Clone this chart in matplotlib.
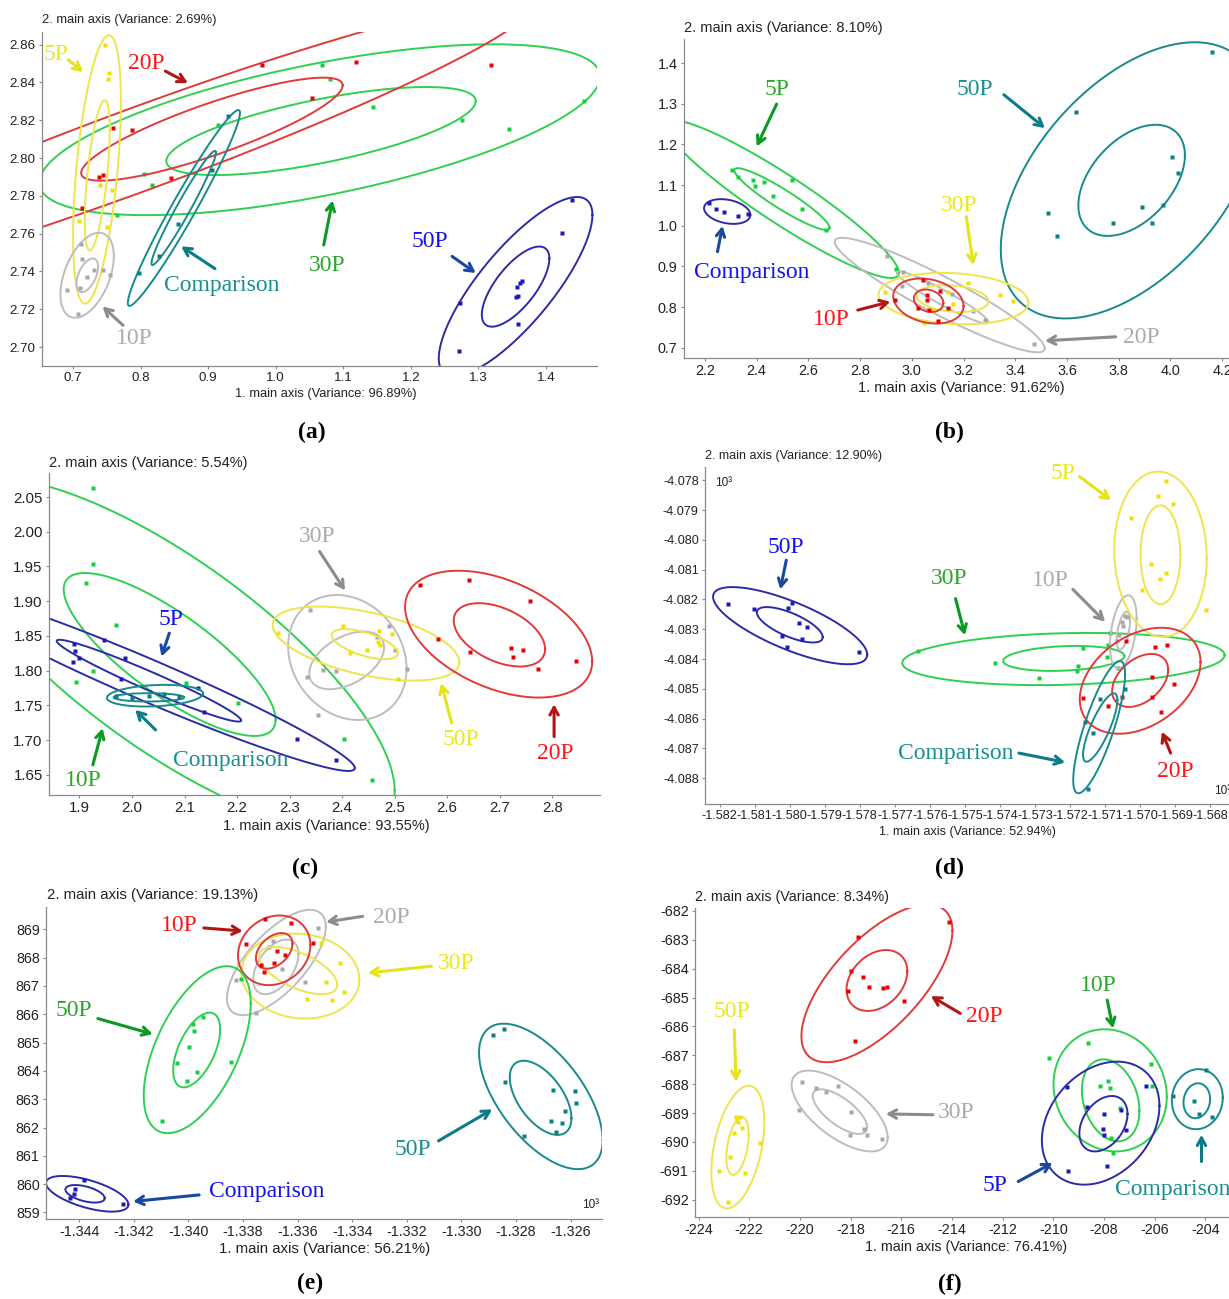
import matplotlib

matplotlib.use("Agg")
import matplotlib.pyplot as plt
import numpy as np

plt.rcParams["font.family"] = ["Liberation Sans", "DejaVu Sans"]

# points are (axis 1, axis 2); ellipses are (cx, cy, half-width, half-height, tilt r)

# ---- (a) ----
a_5p_pts = [(0.747, 2.8596), (0.7529, 2.845), (0.751, 2.842), (0.7396, 2.7855),
            (0.7578, 2.783), (0.7495, 2.7635), (0.7089, 2.7665)]
a_5p_ell = [(0.7354, 2.794, 0.0354, 0.071, 0.5), (0.7358, 2.7909, 0.0185, 0.0397, 0.6)]
a_20p_pts = [(0.9795, 2.849), (1.119, 2.851), (1.319, 2.849), (1.053, 2.832), (0.7584, 2.8161),
             (0.7874, 2.8147), (0.7385, 2.790), (0.7444, 2.7912), (0.8447, 2.7896), (0.7139, 2.7735)]
a_20p_ell = [(0.80, 2.805, 0.58, 0.0789, 0.9556), (0.9055, 2.8153, 0.1935, 0.02725, 0.85)]
a_30p_pts = [(1.069, 2.849), (1.081, 2.842), (1.1445, 2.827), (1.275, 2.820), (1.3455, 2.8155),
             (1.456, 2.830), (0.914, 2.8173), (0.8052, 2.7917), (0.8161, 2.7856), (0.7652, 2.7697)]
a_30p_ell = [(1.065, 2.815, 0.415, 0.0452, 0.62), (1.067, 2.8143, 0.229, 0.0233, 0.68)]
a_comp_pts = [(0.9296, 2.822), (0.905, 2.7935), (0.8547, 2.7653), (0.8274, 2.748), (0.7978, 2.7392)]
a_comp_ell = [(0.864, 2.7736, 0.083, 0.0518, 0.97), (0.8637, 2.7736, 0.0477, 0.0302, 0.97)]
a_10p_pts = [(0.7124, 2.7547), (0.7139, 2.7468), (0.7199, 2.737), (0.7311, 2.741), (0.7436, 2.741),
             (0.7544, 2.738), (0.6911, 2.7304), (0.7099, 2.7312), (0.7074, 2.7177)]
a_10p_ell = [(0.7208, 2.738, 0.0395, 0.0225, 0.45), (0.721, 2.738, 0.016, 0.0089, 0.5)]
a_50p_pts = [(1.4385, 2.7776), (1.424, 2.7605), (1.273, 2.7235), (1.271, 2.698), (1.357, 2.732),
             (1.362, 2.734), (1.365, 2.735), (1.356, 2.7265), (1.359, 2.727), (1.358, 2.712)]
a_50p_ell = [(1.355, 2.732, 0.1137, 0.0474, 0.8), (1.355, 2.732, 0.05, 0.0212, 0.7)]

# ---- (b) ----
b_5p_pts = [(2.306, 1.136), (2.326, 1.119), (2.385, 1.112), (2.394, 1.098), (2.430, 1.107),
            (2.465, 1.073), (2.536, 1.113), (2.576, 1.042), (2.670, 0.990), (2.939, 0.893)]
b_5p_ell = [(2.498, 1.0656, 0.452, 0.194, -0.933), (2.498, 1.0656, 0.184, 0.0759, -0.93)]
b_comp_pts = [(2.214, 1.055), (2.242, 1.041), (2.273, 1.035), (2.329, 1.023), (2.367, 1.028)]
b_comp_ell = [(2.286, 1.035, 0.0894, 0.0304, -0.27)]
b_50p_pts = [(4.162, 1.426), (3.636, 1.279), (4.006, 1.168), (4.029, 1.129), (3.526, 1.032),
             (3.561, 0.975), (3.779, 1.006), (3.889, 1.047), (3.930, 1.006), (3.973, 1.052)]
b_50p_ell = [(3.844, 1.1116, 0.5, 0.3394, 0.5), (3.85, 1.1116, 0.206, 0.1366, 0.45)]
b_20p_pts = [(2.903, 0.9254), (2.965, 0.8852), (2.962, 0.852), (3.064, 0.8581), (3.154, 0.8335),
             (3.238, 0.7899), (3.283, 0.7677), (3.473, 0.7103)]
b_20p_ell = [(3.108, 0.8297, 0.406, 0.1407, -0.93), (3.119, 0.824, 0.177, 0.064, -0.95)]
b_30p_pts = [(2.896, 0.8374), (3.219, 0.8596), (3.341, 0.8293), (3.393, 0.8145), (3.16, 0.8071),
             (3.141, 0.8374), (3.08, 0.7941), (3.048, 0.762)]
b_30p_ell = [(3.161, 0.821, 0.29, 0.0632, -0.15), (3.157, 0.821, 0.139, 0.033, -0.2)]
b_10p_pts = [(3.0445, 0.8663), (3.109, 0.8392), (3.058, 0.8187), (2.935, 0.8187), (3.022, 0.7981),
             (3.068, 0.7924), (3.141, 0.799), (3.10, 0.7653), (3.06, 0.830)]
b_10p_ell = [(3.064, 0.815, 0.136, 0.0554, -0.22), (3.065, 0.8157, 0.057, 0.0276, -0.2)]

# ---- (c) ----
c_10p_pts = [(1.925, 2.063), (1.925, 1.954), (1.913, 1.926), (1.970, 1.866), (1.925, 1.800),
             (1.894, 1.783), (2.102, 1.782), (2.202, 1.753), (2.404, 1.701), (2.456, 1.643)]
c_10p_ell = [(2.07, 1.8233, 0.43, 0.2544, -0.769), (2.0717, 1.8233, 0.2017, 0.1173, -0.8)]
c_5p_pts = [(1.889, 1.839), (1.892, 1.829), (1.899, 1.818), (1.888, 1.812), (1.946, 1.844),
            (1.986, 1.818), (1.980, 1.788), (2.126, 1.775), (2.137, 1.741), (2.315, 1.702),
            (2.389, 1.672)]
c_5p_ell = [(2.0322, 1.7856, 0.392, 0.130, -0.968), (2.0322, 1.7856, 0.1755, 0.0589, -0.97)]
c_comp_pts = [(1.970, 1.764), (2.0, 1.760), (2.032, 1.763), (2.090, 1.762), (2.06, 1.766)]
c_comp_ell = [(2.0438, 1.764, 0.0915, 0.0156, 0.2), (2.032, 1.7616, 0.067, 0.006, 0.0)]
c_30p_pts = [(2.3389, 1.8876), (2.4893, 1.865), (2.5008, 1.830), (2.363, 1.8012), (2.3884, 1.7997),
             (2.3326, 1.7906), (2.523, 1.8022), (2.3535, 1.7363), (2.466, 1.849)]
c_30p_ell = [(2.410, 1.819, 0.1128, 0.090, -0.18), (2.4087, 1.8148, 0.0712, 0.0415, 0.45)]
c_50p_pts = [(2.2785, 1.854), (2.4023, 1.8646), (2.4709, 1.8578), (2.4945, 1.8526), (2.469, 1.842),
             (2.472, 1.8372), (2.448, 1.830), (2.415, 1.8252), (2.5059, 1.7878)]
c_50p_ell = [(2.4455, 1.839, 0.1777, 0.0533, -0.5), (2.443, 1.8382, 0.0629, 0.0216, -0.6)]
c_20p_pts = [(2.549, 1.923), (2.641, 1.930), (2.757, 1.900), (2.583, 1.845), (2.643, 1.827),
             (2.722, 1.832), (2.744, 1.830), (2.725, 1.820), (2.773, 1.803), (2.845, 1.814)]
c_20p_ell = [(2.698, 1.8526, 0.1781, 0.0913, -0.43), (2.6995, 1.8516, 0.087, 0.0456, -0.45)]

# ---- (d) (axis values x 10^3) ----
d_50p_pts = [(-1.58177, -4.08216), (-1.58102, -4.08232), (-1.57993, -4.08213), (-1.58004, -4.08228),
             (-1.57975, -4.0828), (-1.5795, -4.08292), (-1.58021, -4.08322), (-1.57964, -4.08334),
             (-1.58009, -4.08359), (-1.57802, -4.08378)]
d_50p_ell = [(-1.57999, -4.08288, 0.0022, 0.001296, -0.75), (-1.58, -4.08285, 0.00094, 0.000595, -0.7)]
d_30p_pts = [(-1.57635, -4.08372), (-1.57413, -4.08415), (-1.5729, -4.08463), (-1.57177, -4.08424),
             (-1.5718, -4.0844), (-1.57162, -4.08364), (-1.57096, -4.08394), (-1.57091, -4.08353),
             (-1.57086, -4.08314), (-1.57062, -4.08431)]
d_30p_ell = [(-1.57219, -4.084, 0.0046, 0.000877, 0.15), (-1.57218, -4.08398, 0.00173, 0.00042, 0.2)]
d_10p_pts = [(-1.57053, -4.08275), (-1.57043, -4.08256), (-1.57037, -4.08258), (-1.57048, -4.08289),
             (-1.5706, -4.0832), (-1.57065, -4.0834)]
d_10p_ell = [(-1.57048, -4.08309, 0.00038, 0.00123, 0.37), (-1.57048, -4.08305, 0.00019, 0.00064, 0.5)]
d_5p_pts = [(-1.56927, -4.07803), (-1.5695, -4.07854), (-1.56906, -4.07878), (-1.57027, -4.07925),
            (-1.56969, -4.08082), (-1.56927, -4.08111), (-1.56943, -4.0813), (-1.56996, -4.08169),
            (-1.56812, -4.08234)]
d_5p_ell = [(-1.56942, -4.08048, 0.00132, 0.002777, -0.05), (-1.56942, -4.0805, 0.00057, 0.00166, 0.0)]
d_20p_pts = [(-1.5704, -4.0834), (-1.56958, -4.08359), (-1.56924, -4.08353), (-1.56967, -4.0846),
             (-1.56903, -4.08484), (-1.57164, -4.08532), (-1.57093, -4.08558), (-1.57053, -4.08529),
             (-1.56967, -4.08527), (-1.56941, -4.08577)]
d_20p_ell = [(-1.57, -4.08473, 0.001723, 0.00178, 0.35), (-1.57, -4.08472, 0.0008, 0.00089, 0.4)]
d_comp_pts = [(-1.57043, -4.08502), (-1.57115, -4.08535), (-1.57157, -4.0861), (-1.57134, -4.08649),
              (-1.57148, -4.08837)]
d_comp_ell = [(-1.57117, -4.08629, 0.00074, 0.00222, 0.8), (-1.57114, -4.0863, 0.00049, 0.00115, 0.8)]

# ---- (e) (axis 1 x 10^3) ----
e_10p_pts = [(-1.3372, 869.35), (-1.33626, 869.22), (-1.3379, 868.50), (-1.33543, 868.52),
             (-1.33677, 868.24), (-1.33647, 868.08), (-1.33733, 867.73), (-1.33723, 867.50),
             (-1.33685, 867.82)]
e_10p_ell = [(-1.33686, 868.26, 0.001326, 1.23, 0.15), (-1.33686, 868.24, 0.00067, 0.63, 0.4)]
e_20p_pts = [(-1.33525, 869.05), (-1.3369, 868.59), (-1.33705, 868.38), (-1.33659, 867.59),
             (-1.33574, 867.14), (-1.33827, 867.20), (-1.33751, 866.03)]
e_20p_ell = [(-1.33678, 867.83, 0.00181, 1.86, 0.68), (-1.3368, 867.675, 0.00083, 0.965, 0.47)]
e_30p_pts = [(-1.33513, 868.52), (-1.33445, 867.81), (-1.33497, 867.14), (-1.33431, 866.79),
             (-1.33565, 866.53), (-1.33476, 866.52)]
e_30p_ell = [(-1.3359, 867.35, 0.00216, 1.5, -0.08), (-1.33598, 867.545, 0.00143, 0.835, -0.6)]
e_50p_pts = [(-1.33806, 867.24), (-1.33947, 865.91), (-1.33983, 865.64), (-1.3398, 865.40),
             (-1.33999, 864.85), (-1.34041, 864.29), (-1.3397, 863.95), (-1.34005, 863.64),
             (-1.33844, 864.32), (-1.34098, 862.24)]
e_50p_ell = [(-1.33968, 864.75, 0.00196, 2.95, 0.55), (-1.3397, 864.74, 0.00086, 1.32, 0.55)]
e_50q_pts = [(-1.32884, 865.26), (-1.32844, 865.47), (-1.32841, 863.62), (-1.32665, 863.32),
             (-1.32583, 863.29), (-1.32582, 862.88), (-1.32621, 862.58), (-1.32672, 862.23),
             (-1.32631, 862.17), (-1.32653, 861.83), (-1.32772, 861.70)]
e_50q_ell = [(-1.32709, 863.1, 0.002265, 2.57, -0.6), (-1.3271, 863.05, 0.00113, 1.31, -0.55)]
e_comp_pts = [(-1.34383, 860.15), (-1.34414, 859.82), (-1.34419, 859.66), (-1.34433, 859.51),
              (-1.34239, 859.29)]
e_comp_ell = [(-1.34371, 859.66, 0.00151, 0.63, -0.6), (-1.34379, 859.66, 0.00072, 0.31, -0.5)]

# ---- (f) ----
f_20p_pts = [(-214.13, -682.38), (-217.72, -682.90), (-218.0, -684.09), (-217.49, -684.30),
             (-218.11, -684.78), (-217.26, -684.65), (-216.73, -684.68), (-216.58, -684.65),
             (-215.91, -685.12), (-217.84, -686.49)]
f_20p_ell = [(-216.96, -684.51, 2.98, 2.73, 0.67), (-216.96, -684.41, 1.2, 1.055, 0.3)]
f_30p_pts = [(-219.90, -687.93), (-219.36, -688.15), (-218.96, -688.27), (-218.49, -688.05),
             (-220.04, -688.91), (-217.97, -688.96), (-217.47, -689.56), (-218.03, -689.75),
             (-217.35, -689.75), (-216.76, -689.89)]
f_30p_ell = [(-218.43, -688.93, 1.895, 1.4, -0.65), (-218.42, -688.95, 1.075, 0.775, -0.7)]
f_50p_pts = [(-222.53, -689.14), (-222.36, -689.12), (-222.44, -689.32), (-222.30, -689.52),
             (-222.59, -689.70), (-221.56, -690.04), (-222.75, -690.53), (-223.18, -691.0),
             (-222.17, -691.06), (-222.84, -692.09)]
f_50p_ell = [(-222.45, -690.18, 1.045, 2.125, 0.41), (-222.46, -690.14, 0.44, 1.0, 0.4)]
f_10p_pts = [(-210.15, -687.08), (-208.61, -686.58), (-206.15, -687.30), (-208.15, -688.08),
             (-207.85, -687.89), (-207.76, -688.12), (-206.11, -688.08), (-207.36, -688.81),
             (-207.72, -689.85), (-207.65, -690.37)]
f_10p_ell = [(-207.755, -688.215, 2.235, 2.115, -0.1), (-207.735, -688.56, 1.135, 1.42, -0.25)]
f_5p_pts = [(-209.46, -688.10), (-206.35, -688.06), (-208.67, -688.80), (-207.98, -689.03),
            (-207.32, -688.89), (-208.02, -689.56), (-207.99, -689.75), (-207.14, -689.58),
            (-209.40, -691.02), (-207.88, -690.82)]
f_5p_ell = [(-208.13, -689.35, 2.32, 2.13, 0.28), (-208.02, -689.37, 0.95, 0.96, 0.35)]
f_comp_pts = [(-203.97, -687.51), (-205.26, -688.41), (-204.44, -688.60), (-204.23, -689.03),
              (-203.72, -689.12)]
f_comp_ell = [(-204.315, -688.52, 1.005, 1.04, 0.05), (-204.335, -688.575, 0.525, 0.605, 0.1)]

variance_1 = ["96.89", "91.62", "93.55", "52.94", "56.21", "76.41"]
variance_2 = ["2.69", "8.10", "5.54", "12.90", "19.13", "8.34"]

# ellipse line, point, label text, arrow
COL = {
    "green": ("#2fd052", "#14d23c", "#2aa62a", "#0a9a24"),
    "red": ("#e03a3a", "#e80000", "#ff1414", "#b01616"),
    "yellow": ("#efe44c", "#f0e200", "#e8e81c", "#e6e21c"),
    "gray": ("#bdbdbd", "#a8a8a8", "#ababab", "#8c8c8c"),
    "teal": ("#178b8b", "#0d7f80", "#178f8f", "#0b7c85"),
    "blue": ("#2b2ba6", "#1a1ab8", "#1212f0", "#1848a0"),
}
SERIF = ["Liberation Serif", "DejaVu Serif"]
W, H = 1229, 1299


def draw_ellipse(ax, e, colour):
    cx, cy, w, h, r = e
    t = np.linspace(0, 2 * np.pi, 400)
    s = np.sqrt(1 - r * r)
    ax.plot(cx + w * np.cos(t), cy + h * (r * np.cos(t) + s * np.sin(t)),
            color=colour, lw=1.4)


def panel(fig, box, xlim, ylim, xticks, yticks, fmt, groups, notes, k, letter_xy,
          ylab_xy, xlab_xy, tick_fs, lab_fs):
    l, t, r, b = box
    ax = fig.add_axes([l / W, 1 - b / H, (r - l) / W, (b - t) / H])
    for pts, ells, key in groups:
        for e in ells:
            draw_ellipse(ax, e, COL[key][0])
        xs, ys = zip(*pts)
        ax.plot(xs, ys, "s", ms=3.2, color=COL[key][1], mec="none")
    for txt, txy, a0, a1, key, ha in notes:
        ax.annotate("", xy=a1, xytext=a0,
                    arrowprops=dict(arrowstyle="->,head_length=0.55,head_width=0.3",
                                    color=COL[key][3], lw=2.2, shrinkA=0, shrinkB=0))
        ax.text(*txy, txt, color=COL[key][2], fontsize=17, family=SERIF,
                ha=ha, va="center", clip_on=False)
    ax.set_xlim(xlim)
    ax.set_ylim(ylim)
    ax.set_xticks(xticks)
    ax.set_yticks(yticks)
    ax.set_xticklabels([fmt[0].format(v) for v in xticks])
    ax.set_yticklabels([fmt[1].format(v) for v in yticks])
    for side in ("top", "right"):
        ax.spines[side].set_visible(False)
    for side in ("left", "bottom"):
        ax.spines[side].set_color("#8a8a8a")
        ax.spines[side].set_linewidth(0.9)
    ax.tick_params(length=2.5, width=0.8, color="#8a8a8a", labelsize=tick_fs,
                   labelcolor="#222222", pad=2)
    ax.patch.set_alpha(0)
    fig.text(ylab_xy[0] / W, 1 - ylab_xy[1] / H, f"2. main axis (Variance: {variance_2[k]}%)",
             fontsize=lab_fs, color="#222222", va="center", ha="left")
    fig.text(xlab_xy[0] / W, 1 - xlab_xy[1] / H, f"1. main axis (Variance: {variance_1[k]}%)",
             fontsize=lab_fs, color="#222222", va="center", ha="center")
    lx, ly = letter_xy
    fig.text(lx / W, 1 - ly / H, "(" + "abcdef"[k] + ")", fontsize=17, family=SERIF,
             weight="bold", ha="center", va="center")
    return ax


fig = plt.figure(figsize=(12.29, 12.99), dpi=100)

panel(fig, (42, 32, 597, 366), (0.654, 1.4755), (2.690, 2.8667),
      np.arange(0.7, 1.41, 0.1), np.arange(2.70, 2.861, 0.02), ("{:.1f}", "{:.2f}"),
      [(a_30p_pts, a_30p_ell, "green"), (a_20p_pts, a_20p_ell, "red"),
       (a_5p_pts, a_5p_ell, "yellow"), (a_10p_pts, a_10p_ell, "gray"),
       (a_comp_pts, a_comp_ell, "teal"), (a_50p_pts, a_50p_ell, "blue")],
      [("5P", (0.674, 2.855), (0.693, 2.852), (0.715, 2.8455), "yellow", "center"),
       ("20P", (0.809, 2.850), (0.8366, 2.846), (0.870, 2.8397), "red", "center"),
       ("30P", (1.0765, 2.7433), (1.071, 2.754), (1.084, 2.7776), "green", "center"),
       ("Comparison", (0.9197, 2.7327), (0.91, 2.7415), (0.86, 2.7533), "teal", "center"),
       ("10P", (0.7906, 2.7044), (0.774, 2.7115), (0.7436, 2.7215), "gray", "center"),
       ("50P", (1.2288, 2.756), (1.261, 2.748), (1.296, 2.7392), "blue", "center")],
      0, (312, 432), (42, 20), (326, 394), 9.6, 9.3)

panel(fig, (684, 39, 1248, 358), (2.119, 4.30), (0.675, 1.459),
      np.arange(2.2, 4.21, 0.2), np.arange(0.7, 1.41, 0.1), ("{:.1f}", "{:.1f}"),
      [(b_5p_pts, b_5p_ell, "green"), (b_comp_pts, b_comp_ell, "blue"),
       (b_50p_pts, b_50p_ell, "teal"), (b_20p_pts, b_20p_ell, "gray"),
       (b_30p_pts, b_30p_ell, "yellow"), (b_10p_pts, b_10p_ell, "red")],
      [("5P", (2.4803, 1.3343), (2.477, 1.299), (2.40, 1.195), "green", "center"),
       ("Comparison", (2.3818, 0.8847), (2.2485, 0.9364), (2.268, 0.9995), "blue", "center"),
       ("50P", (3.2455, 1.3343), (3.356, 1.322), (3.515, 1.24), "teal", "center"),
       ("30P", (3.185, 1.0488), (3.2106, 1.0225), (3.238, 0.9035), "yellow", "center"),
       ("10P", (2.689, 0.7698), (2.791, 0.7928), (2.9167, 0.8133), "red", "center"),
       ("20P", (3.889, 0.7255), (3.788, 0.7271), (3.515, 0.7173), "gray", "center")],
      1, (949, 432), (684, 28), (961, 388), 10.4, 10.5)

panel(fig, (49, 473, 600, 795), (1.842, 2.891), (1.621, 2.0846),
      np.arange(1.9, 2.81, 0.1), np.arange(1.65, 2.051, 0.05), ("{:.1f}", "{:.2f}"),
      [(c_10p_pts, c_10p_ell, "green"), (c_5p_pts, c_5p_ell, "blue"),
       (c_comp_pts, c_comp_ell, "teal"), (c_30p_pts, c_30p_ell, "gray"),
       (c_50p_pts, c_50p_ell, "yellow"), (c_20p_pts, c_20p_ell, "red")],
      [("5P", (2.0748, 1.8732), (2.071, 1.854), (2.0561, 1.8204), "blue", "center"),
       ("Comparison", (2.1875, 1.6705), (2.0449, 1.7147), (2.0061, 1.7436), "teal", "center"),
       ("10P", (1.9067, 1.6417), (1.9254, 1.6643), (1.9441, 1.7171), "green", "center"),
       ("30P", (2.3518, 1.9933), (2.3571, 1.9717), (2.4056, 1.9155), "gray", "center"),
       ("50P", (2.6259, 1.7003), (2.6087, 1.7244), (2.5886, 1.782), "yellow", "center"),
       ("20P", (2.8051, 1.6811), (2.8036, 1.7051), (2.8036, 1.7517), "red", "center")],
      2, (305, 868), (49, 463), (326, 826), 10.8, 10.5)

panel(fig, (705, 467, 1240, 804), (-1.58242, -1.56715), (-4.08887, -4.07755),
      np.arange(-1.582, -1.5679, 0.001), np.arange(-4.088, -4.0779, 0.001),
      ("{:.3f}", "{:.3f}"),
      [(d_50p_pts, d_50p_ell, "blue"), (d_30p_pts, d_30p_ell, "green"),
       (d_10p_pts, d_10p_ell, "gray"), (d_5p_pts, d_5p_ell, "yellow"),
       (d_20p_pts, d_20p_ell, "red"), (d_comp_pts, d_comp_ell, "teal")],
      [("50P", (-1.58012, -4.08026), (-1.5801, -4.08068), (-1.58027, -4.08166), "blue", "center"),
       ("30P", (-1.57545, -4.0813), (-1.57527, -4.08197), (-1.575, -4.0832), "green", "center"),
       ("10P", (-1.57257, -4.08135), (-1.57192, -4.08166), (-1.571, -4.08275), "gray", "center"),
       ("5P", (-1.5722, -4.07778), (-1.57173, -4.07787), (-1.57083, -4.07867), "yellow", "center"),
       ("Comparison", (-1.57527, -4.08716), (-1.57346, -4.08716), (-1.57214, -4.08747), "teal", "center"),
       ("20P", (-1.5690, -4.08778), (-1.56913, -4.08716), (-1.56938, -4.08644), "red", "center")],
      3, (949, 868), (705, 456), (967, 832), 9.1, 9.0)
fig.text(715 / W, 1 - 483 / H, "10³", fontsize=8.5, color="#222222", ha="left", va="center")
fig.text(1214 / W, 1 - 791 / H, "10³", fontsize=8.5, color="#222222", ha="left", va="center")

panel(fig, (46, 907, 602, 1219), (-1.34522, -1.32485), (858.77, 869.79),
      np.arange(-1.344, -1.3259, 0.002), np.arange(859, 869.1, 1), ("{:.3f}", "{:.0f}"),
      [(e_20p_pts, e_20p_ell, "gray"), (e_30p_pts, e_30p_ell, "yellow"),
       (e_10p_pts, e_10p_ell, "red"), (e_50p_pts, e_50p_ell, "green"),
       (e_50q_pts, e_50q_ell, "teal"), (e_comp_pts, e_comp_ell, "blue")],
      [("10P", (-1.34033, 869.14), (-1.33944, 869.05), (-1.33801, 868.94), "red", "center"),
       ("20P", (-1.33258, 869.43), (-1.33362, 869.46), (-1.33496, 869.26), "gray", "center"),
       ("30P", (-1.33021, 867.81), (-1.3311, 867.70), (-1.33343, 867.46), "yellow", "center"),
       ("50P", (-1.34419, 866.12), (-1.34332, 865.85), (-1.34131, 865.30), "green", "center"),
       ("50P", (-1.33178, 861.23), (-1.33084, 861.53), (-1.32887, 862.64), "teal", "center"),
       ("Comparison", (-1.33714, 859.74), (-1.33961, 859.62), (-1.34203, 859.39), "blue", "center")],
      4, (310, 1283), (47, 895), (325, 1249), 10.3, 10.8)
fig.text(582 / W, 1 - 1205 / H, "10³", fontsize=8.5, color="#222222", ha="left", va="center")

panel(fig, (695, 908, 1240, 1217), (-224.14, -202.63), (-692.6, -681.9),
      np.arange(-224, -203.9, 2), np.arange(-692, -681.9, 1), ("{:.0f}", "{:.0f}"),
      [(f_20p_pts, f_20p_ell, "red"), (f_30p_pts, f_30p_ell, "gray"),
       (f_50p_pts, f_50p_ell, "yellow"), (f_10p_pts, f_10p_ell, "green"),
       (f_5p_pts, f_5p_ell, "blue"), (f_comp_pts, f_comp_ell, "teal")],
      [("20P", (-212.74, -685.66), (-213.67, -685.55), (-214.83, -684.95), "red", "center"),
       ("10P", (-208.22, -684.6), (-207.87, -685.09), (-207.64, -686.07), "green", "center"),
       ("50P", (-222.69, -685.47), (-222.59, -686.12), (-222.52, -687.91), "yellow", "center"),
       ("30P", (-213.85, -688.98), (-214.75, -689.06), (-216.61, -689.03), "gray", "center"),
       ("5P", (-212.31, -691.52), (-211.38, -691.37), (-210.03, -690.73), "blue", "center"),
       ("Comparison", (-207.56, -691.65), (-204.15, -690.68), (-204.15, -689.75), "teal", "left")],
      5, (950, 1284), (695, 897), (966, 1247), 10.4, 10.3)

fig.savefig("out.png", dpi=100)
